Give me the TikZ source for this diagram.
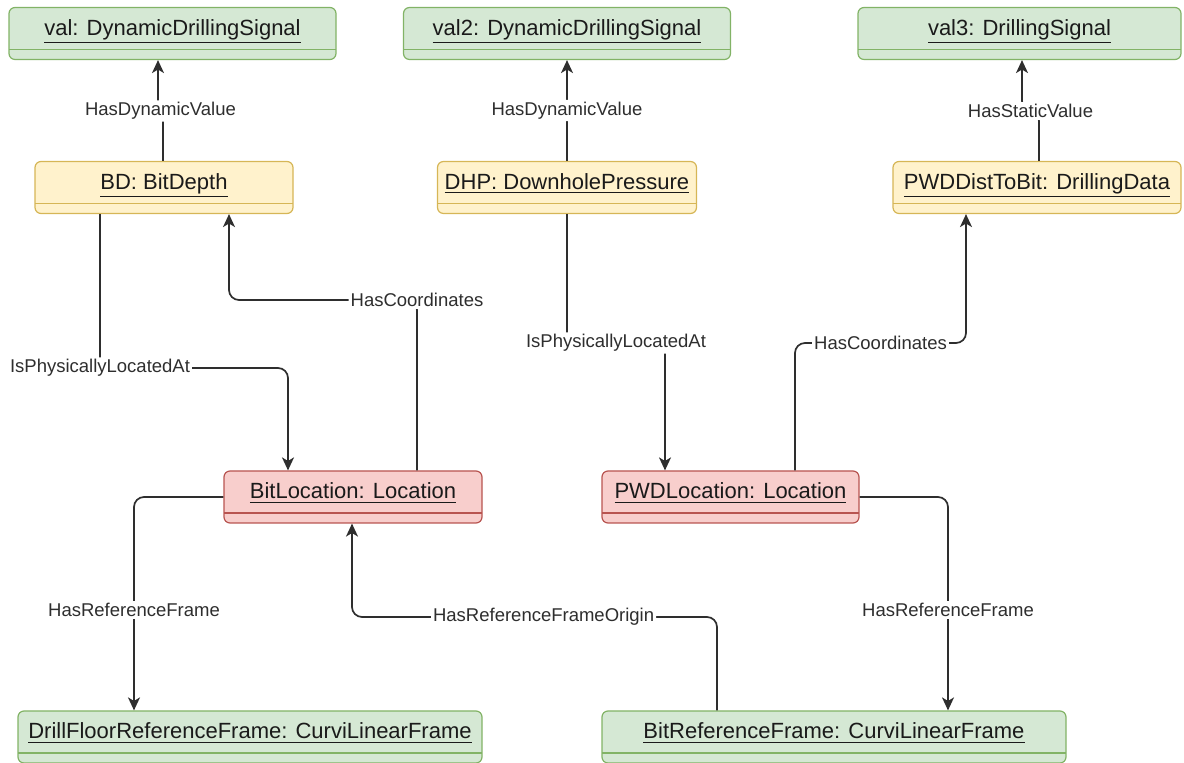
\documentclass[tikz,border=0pt]{standalone}
\usepackage{fontspec}
\setmainfont{Liberation Sans}
\usetikzlibrary{arrows.meta}
\definecolor{greenfill}{HTML}{D5E8D4}
\definecolor{greenline}{HTML}{82B366}
\definecolor{yellowfill}{HTML}{FFF2CC}
\definecolor{yellowline}{HTML}{D6B656}
\definecolor{redfill}{HTML}{F8CECC}
\definecolor{redline}{HTML}{B85450}
\definecolor{ink}{HTML}{2E2E2E}
\definecolor{titleink}{HTML}{1A1A1A}

\begin{document}
\begin{tikzpicture}[x=0.5pt,y=-0.5pt,
  objbox/.style={draw=#1line, fill=#1fill, rounded corners=3pt, line width=0.6pt,
    minimum height=26pt, inner sep=0pt, text=titleink,
    font=\fontsize{11}{13}\selectfont, text height=8pt, text depth=6pt,
    path picture={\draw[#1line, line width=0.6pt]
      ([yshift=5pt]path picture bounding box.south west) --
      ([yshift=5pt]path picture bounding box.south east);}},
  conn/.style={draw=ink, line width=0.85pt, rounded corners=5pt,
    -{Stealth[length=6.5pt,width=6pt,inset=1.8pt]}},
  lbl/.style={fill=white, inner sep=1pt, text=ink,
    font=\fontsize{9.25}{11}\selectfont}]

\useasboundingbox (0,0) rectangle (1184,763);

% object boxes
\node[objbox=green, minimum width=163.5pt] (val)  at (172.5,33.5) {\underline{val: DynamicDrillingSignal}};
\node[objbox=green, minimum width=163.5pt] (val2) at (567,33.5) {\underline{val2: DynamicDrillingSignal}};
\node[objbox=green, minimum width=161.5pt] (val3) at (1019.5,33.5) {\underline{val3: DrillingSignal}};

\node[objbox=yellow, minimum width=129pt]   (bd)  at (164,187.5)  {\underline{BD: BitDepth}};
\node[objbox=yellow, minimum width=129.5pt] (dhp) at (567,187.5) {\underline{DHP: DownholePressure}};
\node[objbox=yellow, minimum width=144pt]   (pwd) at (1037,187.5)  {\underline{PWDDistToBit: DrillingData}};

\node[objbox=red, minimum width=129pt]   (bitloc) at (353,497)   {\underline{BitLocation: Location}};
\node[objbox=red, minimum width=128.5pt] (pwdloc) at (730.5,497) {\underline{PWDLocation: Location}};

\node[objbox=green, minimum width=232pt] (dfframe)  at (250,737) {\underline{DrillFloorReferenceFrame: CurviLinearFrame}};
\node[objbox=green, minimum width=232pt] (bitframe) at (834,737) {\underline{BitReferenceFrame: CurviLinearFrame}};

% connector columns
\coordinate (c100) at (100,0);
\coordinate (c134) at (134,0);
\coordinate (c158) at (158,0);
\coordinate (c163) at (163,0);
\coordinate (c229) at (229,0);
\coordinate (c288) at (288,0);
\coordinate (c352) at (352,0);
\coordinate (c417) at (417,0);
\coordinate (c665) at (665,0);
\coordinate (c717) at (717,0);
\coordinate (c795) at (795,0);
\coordinate (c948) at (948,0);
\coordinate (c966) at (966,0);
\coordinate (c1022) at (1022,0);
\coordinate (c1039) at (1039,0);

% value links
\draw[conn] (bd.north -| c163) -- (163,111) -- node[lbl]{HasDynamicValue} (158,111) -- (val.south -| c158);
\draw[conn] (dhp.north) -- node[lbl]{HasDynamicValue} (val2.south);
\draw[conn] (pwd.north -| c1039) -- (1039,111) -- node[lbl]{HasStaticValue} (1022,111) -- (val3.south -| c1022);

% locations
\draw[conn] (bd.south -| c100) -- (100,368) node[lbl]{IsPhysicallyLocatedAt} -- (288,368) -- (bitloc.north -| c288);
\draw[conn] (bitloc.north -| c417) -- (417,300) node[lbl]{HasCoordinates} -- (229,300) -- (bd.south -| c229);
\draw[conn] (dhp.south) -- (567,343) -- node[lbl]{IsPhysicallyLocatedAt} (665,343) -- (pwdloc.north -| c665);
\draw[conn] (pwdloc.north -| c795) -- (795,343) -- node[lbl]{HasCoordinates} (966,343) -- (pwd.south -| c966);

% reference frames
\draw[conn] (bitloc.west) -- (134,497) -- (134,610) node[lbl]{HasReferenceFrame} -- (dfframe.north -| c134);
\draw[conn] (bitframe.north -| c717) -- (717,617) -- node[lbl, pos=0.475]{HasReferenceFrameOrigin} (352,617) -- (bitloc.south -| c352);
\draw[conn] (pwdloc.east) -- (948,497) -- (948,610) node[lbl]{HasReferenceFrame} -- (bitframe.north -| c948);

\end{tikzpicture}
\end{document}
